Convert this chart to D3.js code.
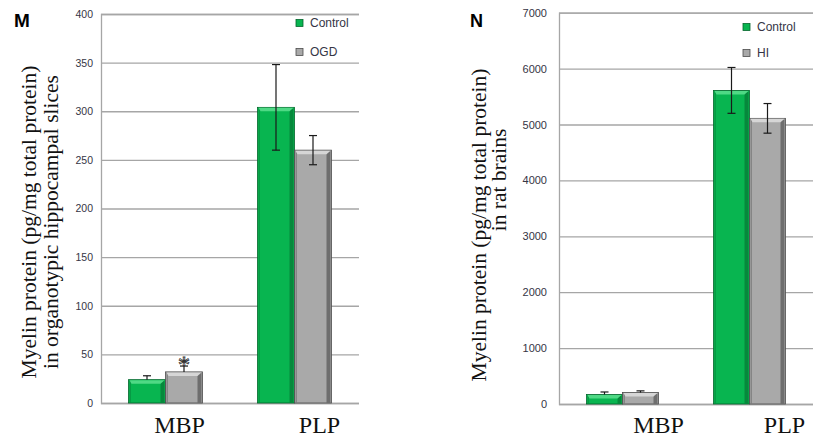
<!DOCTYPE html>
<html>
<head>
<meta charset="utf-8">
<script src="https://cdn.jsdelivr.net/npm/d3@7"></script>
<style>
  body { margin: 0; background: #fff; }
  .tick text { font-family: "Liberation Sans", Arial, sans-serif; fill: #353545; }
</style>
</head>
<body>
<div id="chart"></div>
<script>
var svgWidth = 813;
var svgHeight = 439;

// shared categories
var categories = ["MBP", "PLP"];

// panel M : organotypic hippocampal slices
var seriesM = ["Control", "OGD"];
var controlM = [24, 304];
var controlMUp = [4, 44];
var controlMDown = [0, 44];
var ogdM = [32, 260];
var ogdMUp = [6, 15];
var ogdMDown = [0, 15];
var ticksM = [0, 50, 100, 150, 200, 250, 300, 350, 400];

// panel N : rat brains
var seriesN = ["Control", "HI"];
var controlN = [170, 5610];
var controlNUp = [45, 410];
var controlNDown = [0, 410];
var hiN = [205, 5110];
var hiNUp = [30, 265];
var hiNDown = [0, 265];
var ticksN = [0, 1000, 2000, 3000, 4000, 5000, 6000, 7000];

var colors = {
  green: { main: "#08b550", shade: "#06893c", light: "#4fd985", edge: "#04652c" },
  gray: { main: "#a9a9a9", shade: "#6e6e6e", light: "#d6d6d6", edge: "#4d4d4d" }
};

var svg = d3.select("#chart")
  .append("svg")
  .attr("width", svgWidth)
  .attr("height", svgHeight);

var panels = [
  {
    letter: "M", letterX: 14, letterY: 27, letterSize: 19,
    x0: 101, x1: 359, yTop: 14, yBottom: 403,
    max: 400, ticks: ticksM, tickSize: 10.5, tickPad: 8,
    series: seriesM,
    values: [controlM, ogdM],
    ups: [controlMUp, ogdMUp],
    downs: [controlMDown, ogdMDown],
    barW: 37, labelDx: [14, 25],
    titles: ["Myelin protein (pg/mg total protein)", "in organotypic hippocampal slices"],
    titleX: [36, 58], titleY: [222, 222],
    legendX: 296, legendY: [23, 52],
    star: true
  },
  {
    letter: "N", letterX: 470, letterY: 27, letterSize: 18,
    x0: 559, x1: 813, yTop: 12.7, yBottom: 404,
    max: 7000, ticks: ticksN, tickSize: 11, tickPad: 12,
    series: seriesN,
    values: [controlN, hiN],
    ups: [controlNUp, hiNUp],
    downs: [controlNDown, hiNDown],
    barW: 36, labelDx: [36, 35],
    titles: ["Myelin protein (pg/mg total protein)", "in rat brains"],
    titleX: [486, 506], titleY: [225, 180],
    legendX: 743, legendY: [27, 53],
    star: false
  }
];

panels.forEach(function(p) {
  var g = svg.append("g");

  var xScale = d3.scaleBand()
    .domain(categories)
    .range([p.x0, p.x1])
    .padding(0);

  var subScale = d3.scaleBand()
    .domain(p.series)
    .range([-p.barW, p.barW])
    .padding(0);

  var yScale = d3.scaleLinear()
    .domain([0, p.max])
    .range([p.yBottom, p.yTop]);

  // gridlines + tick labels
  var leftAxis = d3.axisLeft(yScale)
    .tickValues(p.ticks)
    .tickSize(-(p.x1 - p.x0))
    .tickPadding(p.tickPad)
    .tickFormat(d3.format("d"));

  var axisG = g.append("g")
    .attr("transform", `translate(${p.x0}, 0)`)
    .call(leftAxis);
  axisG.select(".domain").attr("stroke", "#a6a6a6").attr("stroke-width", 1.3);
  axisG.selectAll(".tick line").attr("stroke", "#a6a6a6").attr("stroke-width", 1.3);
  axisG.selectAll(".tick text").attr("font-size", p.tickSize + "px");

  // bars
  p.series.forEach(function(s, si) {
    var c = si === 0 ? colors.green : colors.gray;
    categories.forEach(function(cat, ci) {
      var v = p.values[si][ci];
      var bx = xScale(cat) + xScale.bandwidth() / 2 + subScale(s);
      var by = yScale(v);
      var bw = subScale.bandwidth();
      var bh = yScale(0) - by;
      var bg = g.append("g");
      bg.append("rect")
        .attr("x", bx).attr("y", by)
        .attr("width", bw).attr("height", bh)
        .attr("fill", c.main)
        .attr("stroke", c.edge)
        .attr("stroke-width", 0.8);
      bg.append("rect")
        .attr("x", bx + bw - 5).attr("y", by + 1)
        .attr("width", 4).attr("height", Math.max(bh - 1, 0))
        .attr("fill", c.shade);
      bg.append("rect")
        .attr("x", bx + 1).attr("y", by + 0.5)
        .attr("width", 1.5).attr("height", Math.max(bh - 1, 0))
        .attr("fill", c.shade)
        .attr("opacity", 0.6);
      if (bh > 6) {
        bg.append("polygon")
          .attr("points", [
            [bx + 1, by + 0.5], [bx + bw - 1, by + 0.5],
            [bx + bw - 5, by + 4], [bx + 3, by + 4]
          ].map(function(pt) { return pt.join(","); }).join(" "))
          .attr("fill", c.light);
      }

      // error bar
      var up = p.ups[si][ci];
      var down = p.downs[si][ci];
      var cx = bx + bw / 2;
      var eg = g.append("g").attr("stroke", "#1a1a1a").attr("stroke-width", 1.2);
      eg.append("line")
        .attr("x1", cx).attr("x2", cx)
        .attr("y1", yScale(v + up)).attr("y2", yScale(v - down));
      eg.append("line")
        .attr("x1", cx - 4).attr("x2", cx + 4)
        .attr("y1", yScale(v + up)).attr("y2", yScale(v + up));
      if (down > 0) {
        eg.append("line")
          .attr("x1", cx - 4).attr("x2", cx + 4)
          .attr("y1", yScale(v - down)).attr("y2", yScale(v - down));
      }

      if (p.star && si === 1 && ci === 0) {
        g.append("text")
          .attr("x", cx)
          .attr("y", yScale(v + up) + 6)
          .attr("text-anchor", "middle")
          .attr("font-family", "Liberation Serif, Times New Roman, serif")
          .attr("font-size", "24px")
          .attr("fill", "#fff")
          .attr("stroke", "#333")
          .attr("stroke-width", 0.8)
          .text("*");
      }
    });
  });

  // category labels
  categories.forEach(function(cat, ci) {
    g.append("text")
      .attr("x", xScale(cat) + xScale.bandwidth() / 2 + p.labelDx[ci])
      .attr("y", 433)
      .attr("text-anchor", "middle")
      .attr("font-family", "Liberation Serif, Times New Roman, serif")
      .attr("font-size", "24px")
      .attr("fill", "#111")
      .text(cat);
  });

  // legend
  p.series.forEach(function(s, si) {
    var c = si === 0 ? colors.green : colors.gray;
    var ly = p.legendY[si];
    g.append("rect")
      .attr("x", p.legendX).attr("y", ly - 3.5)
      .attr("width", 7).attr("height", 7)
      .attr("fill", c.main)
      .attr("stroke", c.edge)
      .attr("stroke-width", 0.8);
    g.append("text")
      .attr("x", p.legendX + 14)
      .attr("y", ly)
      .attr("dy", "0.35em")
      .attr("font-family", "Liberation Sans, Arial, sans-serif")
      .attr("font-size", "12px")
      .attr("fill", "#353545")
      .text(s);
  });

  // y axis title (two lines)
  p.titles.forEach(function(t, ti) {
    g.append("text")
      .attr("transform", `translate(${p.titleX[ti]}, ${p.titleY[ti]}) rotate(-90)`)
      .attr("text-anchor", "middle")
      .attr("font-family", "Liberation Serif, Times New Roman, serif")
      .attr("font-size", "21.5px")
      .attr("fill", "#111")
      .text(t);
  });

  // panel letter
  g.append("text")
    .attr("x", p.letterX)
    .attr("y", p.letterY)
    .attr("font-family", "Liberation Sans, Arial, sans-serif")
    .attr("font-weight", "bold")
    .attr("font-size", p.letterSize + "px")
    .attr("fill", "#000")
    .text(p.letter);
});
</script>
</body>
</html>
